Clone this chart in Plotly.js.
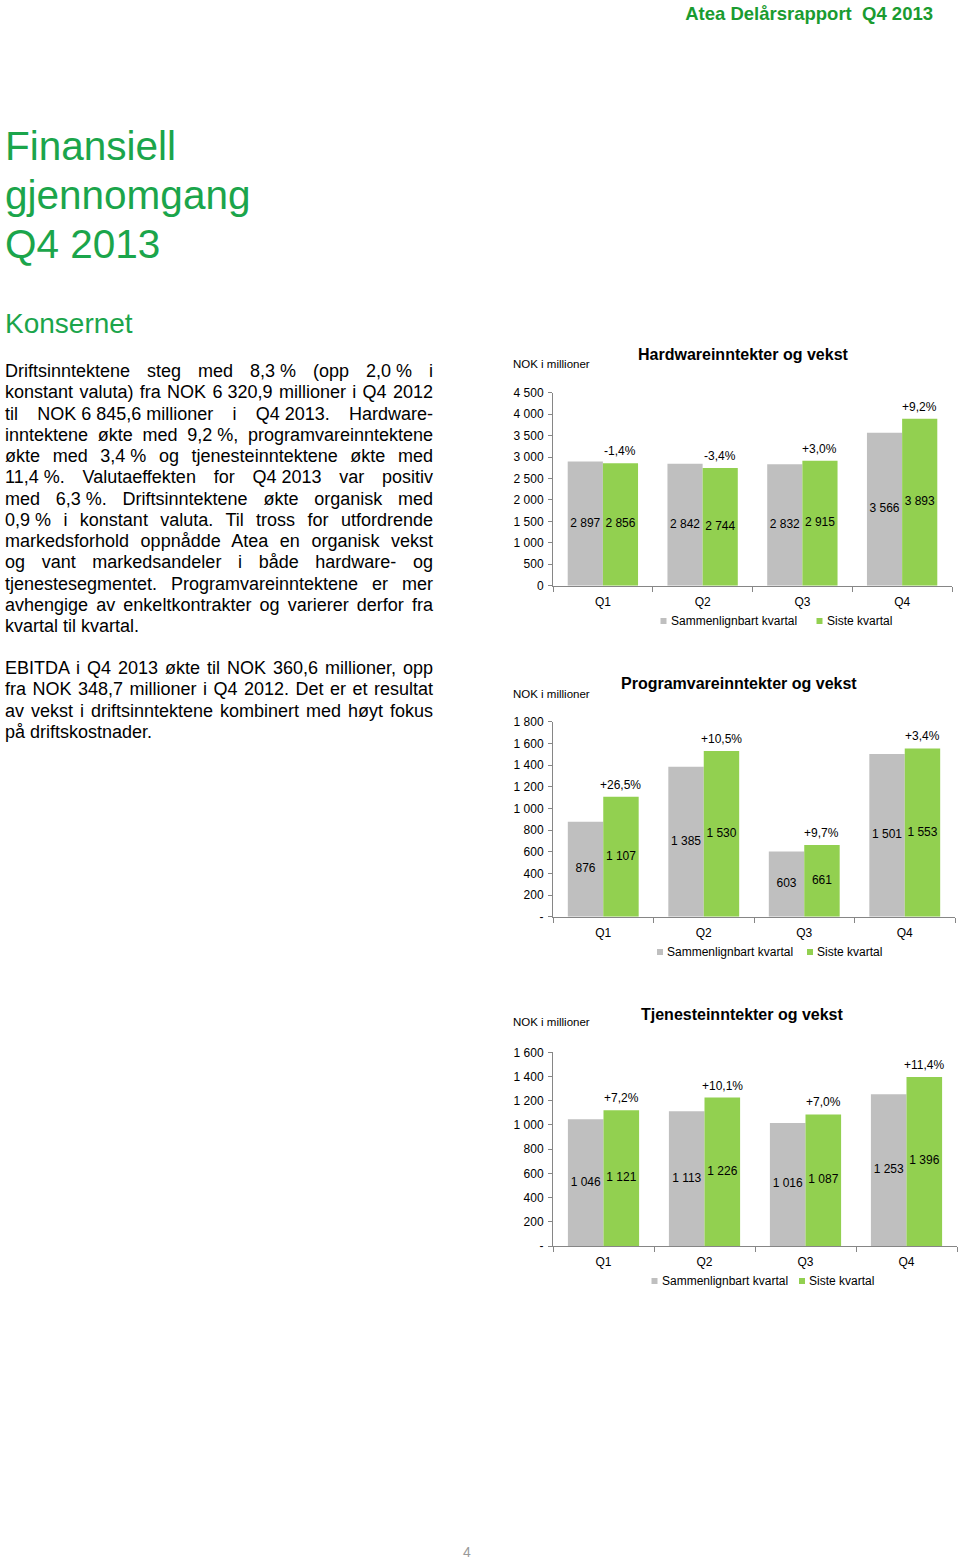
<!DOCTYPE html>
<html><head><meta charset="utf-8">
<script src="https://cdn.plot.ly/plotly-3.0.1.min.js"></script>
<style>
body{margin:0;width:960px;height:1562px;position:relative;font-family:"Liberation Sans",Arial,sans-serif;background:#fff;overflow:hidden}
#chart{position:absolute;left:0;top:0;width:960px;height:1562px}
.hdr{position:absolute;right:27px;top:3px;font-weight:bold;font-size:18.5px;color:#1a9b30;white-space:nowrap}
.h1{position:absolute;left:5px;top:122px;font-size:40.5px;line-height:49px;color:#1ba54b}
.h2{position:absolute;left:5px;top:307px;font-size:28px;line-height:33px;color:#1ba54b}
.para{position:absolute;left:5px;width:428px;font-size:18px;line-height:21.25px;color:#000}
.para div{text-align:justify;text-align-last:justify}
.para div.last{text-align-last:left}
.nb{display:inline-block;white-space:nowrap}
.pg{position:absolute;left:463px;top:1544px;font-size:14px;color:#999}
</style>
</head><body>
<div class="hdr">Atea Delårsrapport&nbsp; Q4 2013</div>
<div class="h1">Finansiell<br>gjennomgang<br>Q4 2013</div>
<div class="h2">Konsernet</div>
<div class="para" style="top:361px">
<div>Driftsinntektene steg med <span class="nb">8,3 %</span> (opp <span class="nb">2,0 %</span> i</div>
<div>konstant valuta) fra NOK <span class="nb">6 320,9</span> millioner i Q4 2012</div>
<div>til <span class="nb">NOK 6 845,6 millioner</span> i <span class="nb">Q4 2013.</span> Hardware-</div>
<div>inntektene økte med <span class="nb">9,2 %,</span> programvareinntektene</div>
<div>økte med <span class="nb">3,4 %</span> og tjenesteinntektene økte med</div>
<div><span class="nb">11,4 %.</span> Valutaeffekten for <span class="nb">Q4 2013</span> var positiv</div>
<div>med <span class="nb">6,3 %.</span> Driftsinntektene økte organisk med</div>
<div><span class="nb">0,9 %</span> i konstant valuta. Til tross for utfordrende</div>
<div>markedsforhold oppnådde Atea en organisk vekst</div>
<div>og vant markedsandeler i både hardware- og</div>
<div>tjenestesegmentet. Programvareinntektene er mer</div>
<div>avhengige av enkeltkontrakter og varierer derfor fra</div>
<div class="last">kvartal til kvartal.</div>
</div>
<div class="para" style="top:658px">
<div>EBITDA i Q4 2013 økte til NOK 360,6 millioner, opp</div>
<div>fra NOK 348,7 millioner i Q4 2012. Det er et resultat</div>
<div>av vekst i driftsinntektene kombinert med høyt fokus</div>
<div class="last">på driftskostnader.</div>
</div>
<div class="pg">4</div>
<div id="chart"></div>
<script>
// ---- data ----
const categories = ['Q1', 'Q2', 'Q3', 'Q4'];
const seriesNames = ['Sammenlignbart kvartal', 'Siste kvartal'];
const chartTitles = ['Hardwareinntekter og vekst', 'Programvareinntekter og vekst', 'Tjenesteinntekter og vekst'];
const unitLabel = 'NOK i millioner';

const hwPrev = [2897, 2842, 2832, 3566];
const hwCur = [2856, 2744, 2915, 3893];
const hwGrowth = [-1.4, -3.4, 3.0, 9.2];
const hwTickVals = [0, 500, 1000, 1500, 2000, 2500, 3000, 3500, 4000, 4500];
const hwTickText = ['0', '500', '1 000', '1 500', '2 000', '2 500', '3 000', '3 500', '4 000', '4 500'];

const swPrev = [876, 1385, 603, 1501];
const swCur = [1107, 1530, 661, 1553];
const swGrowth = [26.5, 10.5, 9.7, 3.4];
const swTickVals = [0, 200, 400, 600, 800, 1000, 1200, 1400, 1600, 1800];
const swTickText = ['-', '200', '400', '600', '800', '1 000', '1 200', '1 400', '1 600', '1 800'];

const svPrev = [1046, 1113, 1016, 1253];
const svCur = [1121, 1226, 1087, 1396];
const svGrowth = [7.2, 10.1, 7.0, 11.4];
const svTickVals = [0, 200, 400, 600, 800, 1000, 1200, 1400, 1600];
const svTickText = ['-', '200', '400', '600', '800', '1 000', '1 200', '1 400', '1 600'];

// ---- layout / styling ----
const W = 960, H = 1562;
const GRAY = '#bfbfbf', GREEN = '#92d050', AXIS = '#868686';
const FONT = '"Liberation Sans", Arial, sans-serif';
const BARGAP = 0.295;
const half = (1 - BARGAP) / 4; // center offset of each bar in group

const panels = [
  {prev: hwPrev, cur: hwCur, growth: hwGrowth, tv: hwTickVals, tt: hwTickText, title: chartTitles[0],
   x0: 553, x1: 952, yTop: 392.7, yBot: 585.7, titleX: 743, titleY: 354, unitY: 364,
   legY: 621, legGray: 660.5, legGreen: 816.5},
  {prev: swPrev, cur: swCur, growth: swGrowth, tv: swTickVals, tt: swTickText, title: chartTitles[1],
   x0: 553, x1: 955, yTop: 721.7, yBot: 916.7, titleX: 739, titleY: 683, unitY: 694,
   legY: 952, legGray: 657, legGreen: 807},
  {prev: svPrev, cur: svCur, growth: svGrowth, tv: svTickVals, tt: svTickText, title: chartTitles[2],
   x0: 553, x1: 957, yTop: 1052.3, yBot: 1246, titleX: 742.5, titleY: 1014, unitY: 1022,
   legY: 1281, legGray: 651.5, legGreen: 799}
];

const fmt = n => String(n).replace(/\B(?=(\d{3})+(?!\d))/g, ' ');
const fmtPct = g => (g < 0 ? '-' : '+') + Math.abs(g).toFixed(1).replace('.', ',') + '%';
const px = x => x / W;
const py = y => 1 - y / H;

const traces = [];
const layout = {
  width: W, height: H, margin: {l: 0, r: 0, t: 0, b: 0},
  paper_bgcolor: 'rgba(0,0,0,0)', plot_bgcolor: 'rgba(0,0,0,0)',
  barmode: 'group', bargap: BARGAP, bargroupgap: 0, showlegend: false,
  font: {family: FONT, size: 12, color: '#000'},
  annotations: [], shapes: []
};

const idx = categories.map((c, i) => i);

panels.forEach((p, k) => {
  const n = k + 1;
  const xa = 'x' + (n === 1 ? '' : n), ya = 'y' + (n === 1 ? '' : n);
  traces.push({type: 'bar', x: idx, y: p.prev, name: seriesNames[0], marker: {color: GRAY}, xaxis: xa, yaxis: ya, hoverinfo: 'skip'});
  traces.push({type: 'bar', x: idx, y: p.cur, name: seriesNames[1], marker: {color: GREEN}, xaxis: xa, yaxis: ya, hoverinfo: 'skip'});
  traces.push({type: 'scatter', mode: 'text', x: idx.map(i => i - half), y: p.prev.map(v => v / 2),
    text: p.prev.map(fmt), textfont: {size: 12, color: '#000'}, cliponaxis: false, xaxis: xa, yaxis: ya, hoverinfo: 'skip'});
  traces.push({type: 'scatter', mode: 'text', x: idx.map(i => i + half), y: p.cur.map(v => v / 2),
    text: p.cur.map(fmt), textfont: {size: 12, color: '#000'}, cliponaxis: false, xaxis: xa, yaxis: ya, hoverinfo: 'skip'});
  // growth labels above the green bars
  p.cur.forEach((v, i) => {
    layout.annotations.push({xref: xa, yref: ya, x: i + half, y: v, yshift: 12, xanchor: 'center', yanchor: 'middle',
      text: fmtPct(p.growth[i]), showarrow: false, font: {size: 12, color: '#000'}});
  });

  const xk = 'xaxis' + (n === 1 ? '' : n), yk = 'yaxis' + (n === 1 ? '' : n);
  layout[xk] = {
    domain: [px(p.x0), px(p.x1)], anchor: ya, range: [-0.5, 3.5], fixedrange: true,
    tickmode: 'array', tickvals: idx, ticktext: categories, ticks: 'outside', ticklen: 5,
    tickcolor: 'rgba(0,0,0,0)', showgrid: false, zeroline: false,
    showline: true, linecolor: AXIS, linewidth: 1, tickfont: {size: 12, color: '#000'},
    minor: {tickmode: 'array', tickvals: [-0.5, 0.5, 1.5, 2.5, 3.5], ticks: 'outside', ticklen: 5, tickcolor: AXIS, showgrid: false}
  };
  layout[yk] = {
    domain: [py(p.yBot), py(p.yTop)], anchor: xa, range: [0, p.tv[p.tv.length - 1]], fixedrange: true,
    tickmode: 'array', tickvals: p.tv, ticktext: p.tt, ticks: 'outside', ticklen: 4, tickcolor: AXIS,
    ticklabelstandoff: 2,
    showgrid: false, zeroline: false, showline: true, linecolor: AXIS, linewidth: 1,
    tickfont: {size: 12, color: '#000'}
  };
  layout.annotations.push({xref: 'paper', yref: 'paper', x: px(p.titleX), y: py(p.titleY), xanchor: 'center', yanchor: 'middle',
    text: '<b>' + p.title + '</b>', showarrow: false, font: {size: 16, color: '#000'}});
  layout.annotations.push({xref: 'paper', yref: 'paper', x: px(511), y: py(p.unitY), xanchor: 'left', yanchor: 'middle',
    text: unitLabel, showarrow: false, font: {size: 11.5, color: '#000'}});
  // legend
  [[p.legGray, GRAY, seriesNames[0]], [p.legGreen, GREEN, seriesNames[1]]].forEach(([lx, col, name]) => {
    layout.shapes.push({type: 'rect', xref: 'paper', yref: 'paper', x0: px(lx), x1: px(lx + 6),
      y0: py(p.legY + 3), y1: py(p.legY - 3), fillcolor: col, line: {width: 0}});
    layout.annotations.push({xref: 'paper', yref: 'paper', x: px(lx + 8), y: py(p.legY), xanchor: 'left', yanchor: 'middle',
      text: name, showarrow: false, font: {size: 12, color: '#000'}});
  });
});

Plotly.newPlot('chart', traces, layout, {staticPlot: true, displayModeBar: false});
</script>
</body></html>
